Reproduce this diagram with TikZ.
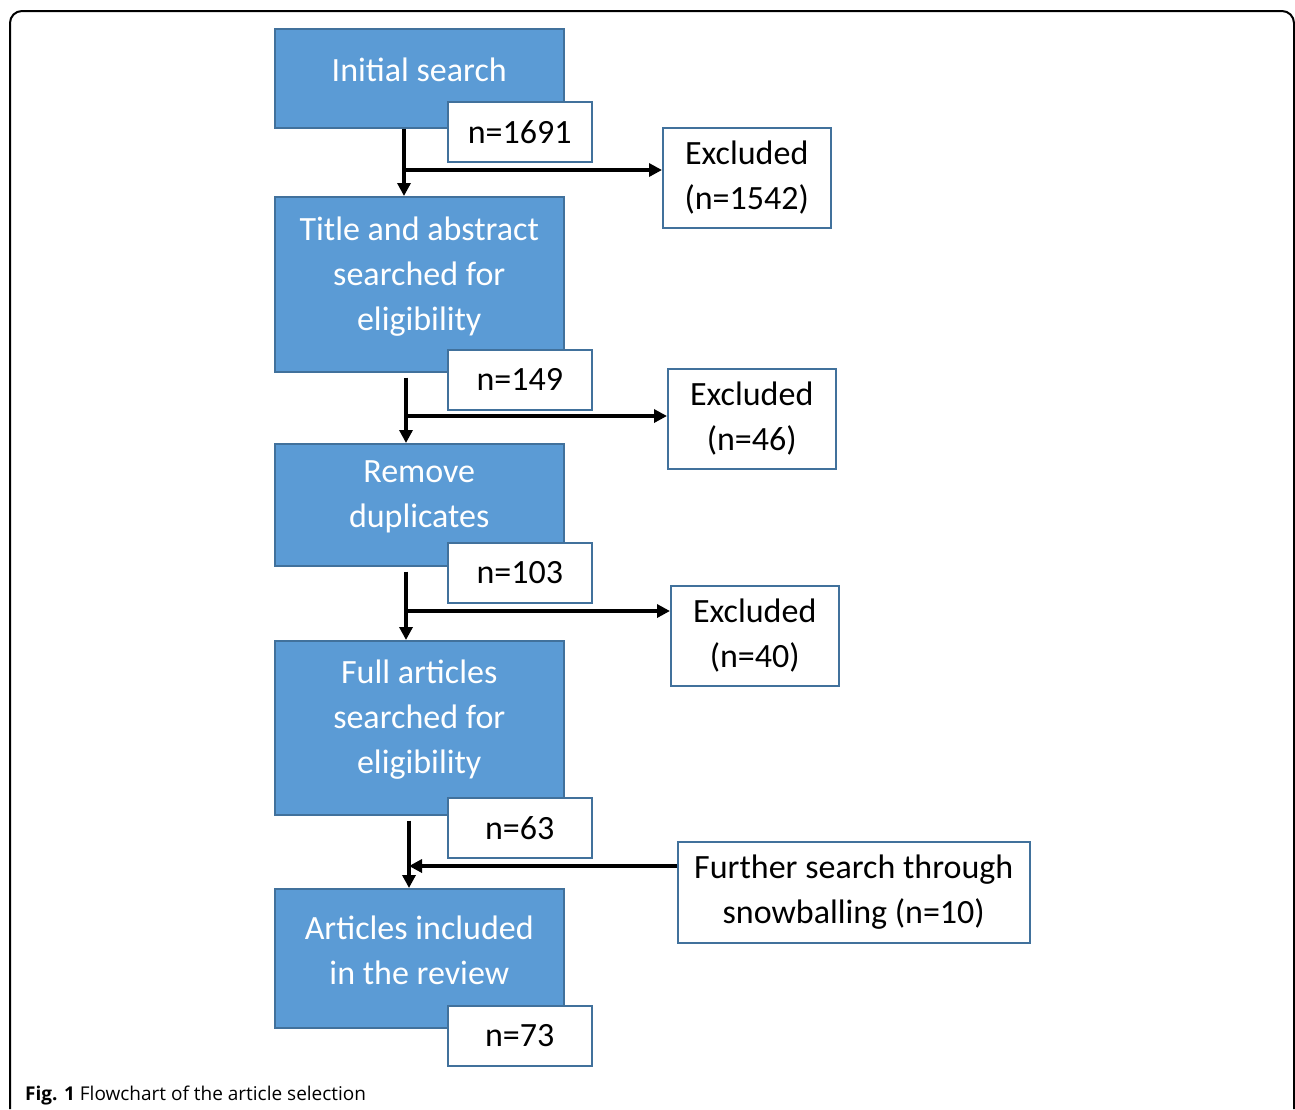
\documentclass[tikz,border=0pt]{standalone}
\usepackage{fontspec}
\setmainfont{Carlito}
\newfontfamily\capfont{Open Sans}
\usetikzlibrary{arrows.meta, positioning}

\definecolor{stepblue}{HTML}{5B9BD5}
\definecolor{stepline}{HTML}{41719C}

\tikzset{
  stage/.style={draw=stepline, fill=stepblue, line width=1.5pt,
    minimum width=289pt, anchor=north west, inner sep=0pt,
    label={[stagetext]center:#1}},
  stagetext/.style={text=white, align=center, yshift=8pt,
    font=\fontsize{34}{45}\selectfont, inner sep=0pt},
  count/.style={draw=stepline, fill=white, line width=1.5pt,
    minimum width=144pt, minimum height=60pt, anchor=north west,
    font=\fontsize{34}{40}\selectfont, inner sep=0pt},
  excl/.style={draw=stepline, fill=white, line width=1.5pt,
    minimum height=100pt, align=center, anchor=north west,
    font=\fontsize{34}{45}\selectfont, inner sep=0pt},
  flow/.style={line width=4pt, -{Triangle[length=13pt, width=13pt]}},
}

\begin{document}
\begin{tikzpicture}[x=1pt, y=-1pt]
		\useasboundingbox (0,0) rectangle (1295,1109);

		% outer frame, open at the bottom
		\draw [line width=2pt, rounded corners=12pt] (10,1109) -- (10,11) -- (1294,11) -- (1294,1109);

		% main stages
		\node (init) [stage={Initial search}, minimum height=99pt] at (274,28) {};
		\node (title) [stage={Title and abstract\\searched for\\eligibility}, minimum height=175pt] at (274,196) {};
		\node (dup) [stage={Remove\\duplicates}, minimum height=122pt] at (274,443) {};
		\node (full) [stage={Full articles\\searched for\\eligibility}, minimum height=174pt] at (274,640) {};
		\node (incl) [stage={Articles included\\in the review}, minimum height=139pt] at (274,888) {};

		% counts
		\node (n1) [count] at (447,101) {n=1691};
		\node (n2) [count] at (447,349) {n=149};
		\node (n3) [count] at (447,542) {n=103};
		\node (n4) [count] at (447,797) {n=63};
		\node (n5) [count] at (447,1005) {n=73};

		% side boxes
		\node (ex1) [excl, minimum width=168pt] at (662,127) {Excluded\\(n=1542)};
		\node (ex2) [excl, minimum width=168pt] at (667,368) {Excluded\\(n=46)};
		\node (ex3) [excl, minimum width=168pt] at (670,585) {Excluded\\(n=40)};
		\node (snow) [excl, minimum width=352pt, minimum height=101pt] at (677,841) {Further search through\\snowballing (n=10)};

		% junctions
		\coordinate (j1) at (404,170);
		\coordinate (j2) at (406,416);
		\coordinate (j3) at (406,611);
		\coordinate (j4) at (409,866);

		\draw [flow] (j1 |- init.south) -- (j1 |- title.north);
		\draw [flow] (j1) -- (ex1.west |- j1);
		\draw [flow] ([yshift=-5pt]j2 |- title.south) -- (j2 |- dup.north);
		\draw [flow] (j2) -- (ex2.west |- j2);
		\draw [flow] ([yshift=-5pt]j3 |- dup.south) -- (j3 |- full.north);
		\draw [flow] (j3) -- (ex3.west |- j3);
		\draw [flow] ([yshift=-5pt]j4 |- full.south) -- (j4 |- incl.north);
		\draw [flow] (snow.west |- j4) -- (j4);

		\node (cap) [anchor=base west, font=\capfont\fontsize{19}{22}\selectfont, inner sep=0pt]
			at (25,1100) {\textbf{Fig. 1} Flowchart of the article selection};
	\end{tikzpicture}
\end{document}
